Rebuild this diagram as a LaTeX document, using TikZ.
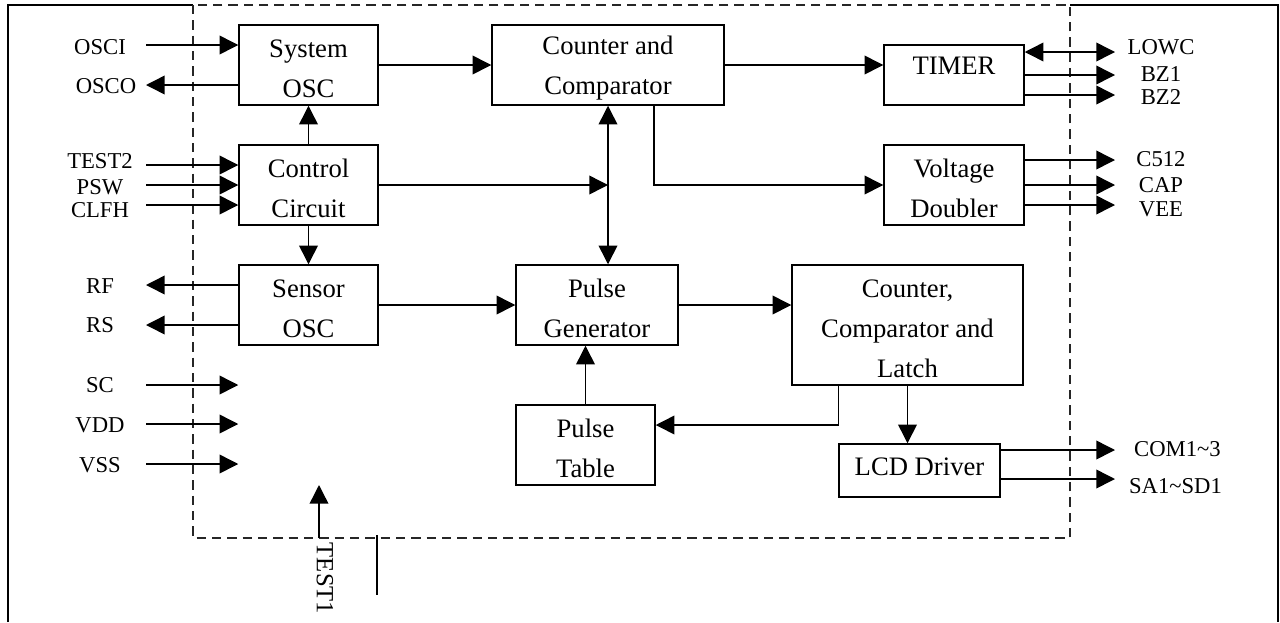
\documentclass[tikz,border=0pt]{standalone}
\usepackage{fontspec}
\setmainfont{Liberation Serif}
\usetikzlibrary{arrows.meta,calc}
\newcommand\bxstrut{\rule{0pt}{18.2pt}}
\begin{document}
\begin{tikzpicture}[x=0.75pt,y=-0.75pt,
 blk/.style={draw,line width=1.1pt,inner sep=0pt,align=center,font=\fontsize{20}{30}\selectfont},
 pin/.style={inner sep=0pt,text height=11.3pt,text depth=0pt,font=\fontsize{17}{20}\selectfont},
 arr/.style={line width=1.1pt,-{Triangle[length=14pt,width=14pt]}},
 darr/.style={line width=1.1pt,{Triangle[length=14pt,width=14pt]}-{Triangle[length=14pt,width=14pt]}},
 wire/.style={line width=1.1pt},
 frame/.style={line width=0.9pt},
 bound/.style={line width=1pt,dash pattern=on 7pt off 4.5pt,draw=black!85}]
\useasboundingbox (0,0) rectangle (1280,622);
% frame and chip boundary
\draw[frame] (8,622) -- (8,5) -- (193,5);
\draw[frame] (1070,5) -- (1278,5) -- (1278,622);
\draw[bound] (193,5) rectangle (1070,538);
% blocks
\node[blk,minimum width=104.25pt,minimum height=60pt] (sys) at (308.5,65) {\bxstrut System\\OSC};
\node[blk,minimum width=104.25pt,minimum height=60pt] (ctl) at (308.5,185) {\bxstrut Control\\Circuit};
\node[blk,minimum width=104.25pt,minimum height=60pt] (sen) at (308.5,305) {\bxstrut Sensor\\OSC};
\node[blk,minimum width=174pt,minimum height=60pt] (cc) at (608,65) {\bxstrut Counter and\\Comparator};
\node[blk,text depth=13.5pt,minimum width=105pt,minimum height=45pt] (tim) at (954,75) {TIMER};
\node[blk,minimum width=105pt,minimum height=60pt] (vd) at (954,185) {\bxstrut Voltage\\Doubler};
\node[blk,minimum width=121.5pt,minimum height=60pt] (pg) at (597,305) {\bxstrut Pulse\\Generator};
\node[blk,minimum width=104.25pt,minimum height=60pt] (ptab) at (585.5,445) {\bxstrut Pulse\\Table};
\node[blk,minimum width=173.25pt,minimum height=90pt] (lat) at (907.5,325) {\bxstrut Counter,\\Comparator and\\Latch};
\node[blk,text depth=5.25pt,minimum width=120.75pt,minimum height=39.75pt] (lcd) at (919.5,470.5) {LCD Driver};
% left pins
\node[pin] (lOSCI) at (100,47) {OSCI};
\node[pin] (lOSCO) at (106,86) {OSCO};
\node[pin] (lTEST2) at (100,161) {TEST2};
\node[pin] (lPSW) at (100,187) {PSW};
\node[pin] (lCLFH) at (100,210) {CLFH};
\node[pin] (lRF) at (100,285.5) {RF};
\node[pin] (lRS) at (100,325) {RS};
\node[pin] (lSC) at (100,385) {SC};
\node[pin] (lVDD) at (100,425) {VDD};
\node[pin] (lVSS) at (100,464.5) {VSS};
\coordinate (eOSCI) at (146,45);
\coordinate (eOSCO) at (146,85);
\coordinate (eTEST2) at (146,165);
\coordinate (ePSW) at (146,185);
\coordinate (eCLFH) at (146,205);
\coordinate (eRF) at (146,285);
\coordinate (eRS) at (146,325);
\coordinate (eSC) at (146,385);
\coordinate (eVDD) at (146,424);
\coordinate (eVSS) at (146,464);
\draw[arr] (eOSCI) -- (eOSCI -| sys.west);
\draw[arr] (eOSCO -| sys.west) -- (eOSCO);
\draw[arr] (eTEST2) -- (eTEST2 -| ctl.west);
\draw[arr] (ePSW) -- (ePSW -| ctl.west);
\draw[arr] (eCLFH) -- (eCLFH -| ctl.west);
\draw[arr] (eRF -| sen.west) -- (eRF);
\draw[arr] (eRS -| sen.west) -- (eRS);
\draw[arr] (eSC) -- (eSC -| sen.west);
\draw[arr] (eVDD) -- (eVDD -| sen.west);
\draw[arr] (eVSS) -- (eVSS -| sen.west);
% bottom pins
\coordinate (t1a) at (319,538);
\coordinate (t1b) at (319,485);
\draw[arr] (t1a) -- (t1b);
\node[inner sep=0pt,rotate=-90,font=\fontsize{18.5}{20}\selectfont] (lTEST1) at (325,578.5) {TEST1};
\coordinate (s1) at (377,535);
\coordinate (s2) at (377,595);
\draw[wire] (s1) -- (s2);
% right pins
\coordinate (eLOWC) at (1115,52);
\coordinate (eBZ1) at (1115,75);
\coordinate (eBZ2) at (1115,95);
\coordinate (eC512) at (1115,160);
\coordinate (eCAP) at (1115,185);
\coordinate (eVEE) at (1115,205);
\coordinate (eCOM) at (1115,450);
\coordinate (eSEG) at (1115,479);
\draw[darr] (eLOWC -| tim.east) -- (eLOWC);
\draw[arr] (eBZ1 -| tim.east) -- (eBZ1);
\draw[arr] (eBZ2 -| tim.east) -- (eBZ2);
\draw[arr] (eC512 -| vd.east) -- (eC512);
\draw[arr] (eCAP -| vd.east) -- (eCAP);
\draw[arr] (eVEE -| vd.east) -- (eVEE);
\draw[arr] (eCOM -| lcd.east) -- (eCOM);
\draw[arr] (eSEG -| lcd.east) -- (eSEG);
\node[pin] (lLOWC) at (1161,47) {LOWC};
\node[pin] (lBZ1) at (1161,74) {BZ1};
\node[pin] (lBZ2) at (1161,97) {BZ2};
\node[pin] (lC512) at (1161,159) {C512};
\node[pin] (lCAP) at (1161,185) {CAP};
\node[pin] (lVEE) at (1161,209) {VEE};
\node[pin] (lCOM) at (1177.5,448.5) {COM1\textasciitilde 3};
\node[pin] (lSEG) at (1175.5,486) {SA1\textasciitilde SD1};
% internal connections
\draw[arr] (sys.east) -- (cc.west);
\draw[arr] (cc.east) -- (cc.east -| tim.west);
\draw[arr] (ctl.north) -- (sys.south);
\draw[arr] (ctl.south) -- (sen.north);
\draw[arr] (ctl.east) -- (ctl.east -| cc.south);
\draw[darr] (cc.south) -- (cc.south |- pg.north);
\draw[arr] ([xshift=34.5pt]cc.south) |- (vd.west);
\draw[arr] (sen.east) -- (pg.west);
\draw[arr] (pg.east) -- (pg.east -| lat.west);
\draw[arr] (ptab.north) -- (ptab.north |- pg.south);
\draw[arr] ([xshift=35.25pt]lat.south west) |- ([yshift=15pt]ptab.east);
\draw[arr] (lat.south) -- (lat.south |- lcd.north);
\end{tikzpicture}
\end{document}
